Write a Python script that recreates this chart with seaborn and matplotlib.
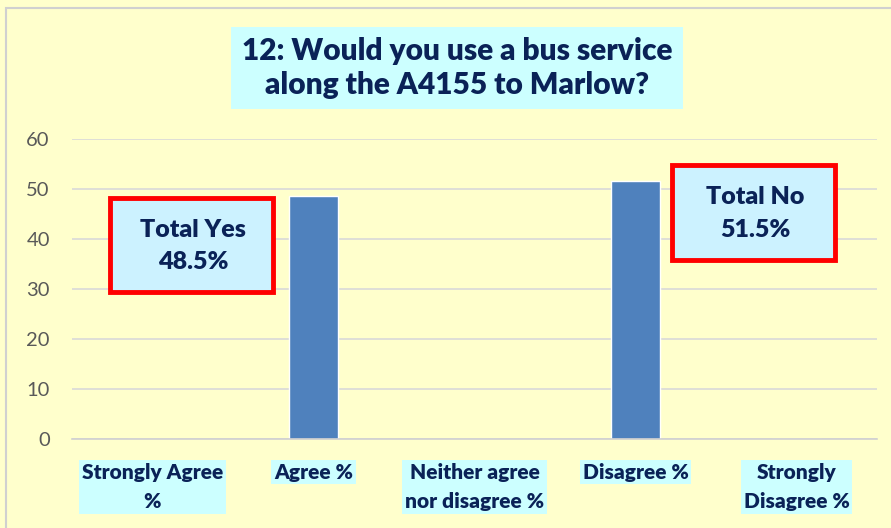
import matplotlib.pyplot as plt
import matplotlib.patches as mpatches
import pandas as pd
import seaborn as sns

categories = ['Strongly Agree\n%', 'Agree %', 'Neither agree\nnor disagree %',
              'Disagree %', 'Strongly\nDisagree %']
values = [0, 48.5, 0, 51.5, 0]
title = '12: Would you use a bus service\nalong the A4155 to Marlow?'
yes_text = 'Total Yes\n48.5%'
no_text = 'Total No\n51.5%'

navy = '#0A2257'
bg = '#FFFFCC'
cyan = '#CCFFFF'

sns.set_style('white')
plt.rcParams['font.family'] = ['Lato', 'DejaVu Sans']

df = pd.DataFrame({'category': categories, 'value': values})

W, H = 891, 528
fig = plt.figure(figsize=(W / 100, H / 100), dpi=100)
fig.patch.set_facecolor(bg)
# outer chart border
fig.add_artist(mpatches.Rectangle((0.007, -0.01), 1.1, 0.995, transform=fig.transFigure,
                                  fill=False, edgecolor='#D0D0D0', linewidth=1.5))

ax = fig.add_axes([72 / W, 89 / H, 805 / W, 300 / H])
ax.set_facecolor(bg)
sns.barplot(data=df, x='category', y='value', color='#4F81BD', width=0.31,
            saturation=1, ax=ax)

ax.set_ylim(0, 60)
ax.set_yticks(range(0, 61, 10))
ax.yaxis.grid(True, color='#D9D9D9', linewidth=1.2)
ax.set_axisbelow(True)
for s in ['top', 'right', 'left']:
    ax.spines[s].set_visible(False)
ax.spines['bottom'].set_color('#D0D0D0')
ax.spines['bottom'].set_linewidth(1.2)
ax.set_xlabel('')
ax.set_ylabel('')
ax.tick_params(axis='y', length=0, pad=16, labelsize=14.5, labelcolor='#595959')
ax.tick_params(axis='x', length=0, pad=17)
ax.set_xticks(range(len(categories)), categories, fontsize=15, fontweight='heavy',
              color=navy, va='top', linespacing=1.65, multialignment='center',
              bbox=dict(facecolor=cyan, edgecolor='none', pad=2))

fig.text(457 / W, 1 - 68 / H, title, ha='center', va='center', fontsize=21.5,
         fontweight='heavy', color=navy, linespacing=1.25,
         bbox=dict(facecolor=cyan, edgecolor='none', boxstyle='square,pad=0.35'))


def total_box(x0, y0, x1, y1, text):
    fig.add_artist(mpatches.Rectangle((x0 / W, 1 - y1 / H), (x1 - x0) / W, (y1 - y0) / H,
                                      transform=fig.transFigure, facecolor='#CCF2FF',
                                      edgecolor='#FF0000', linewidth=3.5))
    fig.text((x0 + x1) / 2 / W + 0.002, 1 - (y0 + y1 + 2) / 2 / H, text, ha='center',
             va='center', fontsize=18, fontweight='heavy', color=navy, linespacing=1.6)


total_box(110, 198, 273, 292, yes_text)
total_box(672, 165, 835, 260, no_text)

fig.savefig('out.png', dpi=100, facecolor=bg)
